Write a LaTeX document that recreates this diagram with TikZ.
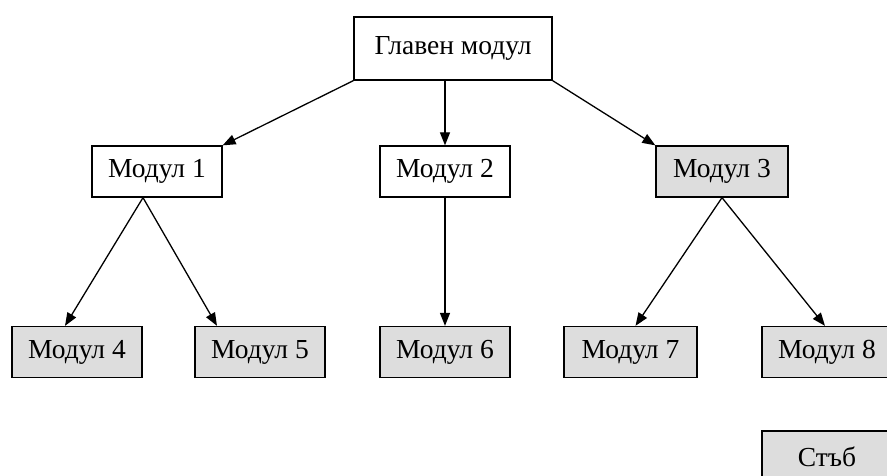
\documentclass[tikz,border=0pt]{standalone}
\usepackage{fontspec}
\setmainfont{Liberation Serif}
\usetikzlibrary{arrows.meta,calc}
\tikzset{
  modbox/.style={draw=black, line width=1.3pt, fill=white, inner sep=0pt,
    minimum width=130pt, minimum height=51pt, font=\fontsize{27.5}{32}\selectfont},
  leafbox/.style={modbox, fill=boxgray},
  link/.style={line width=1.3pt, -{Triangle[length=13pt,width=10pt]}}
}
\definecolor{boxgray}{HTML}{DDDDDD}
\begin{document}
\begin{tikzpicture}[x=1pt,y=-1pt]
  \useasboundingbox (0,0) rectangle (887,476);
  \clip (0,0) rectangle (887,476);
  \fill[white] (0,0) rectangle (887,476);

  % module tree
  \node[modbox, minimum width=198pt, minimum height=63pt] (main) at (453,48.5) {Главен модул};
  \node[modbox] (m1) at (157,171.5) {Модул 1};
  \node[modbox] (m2) at (445,171.5) {Модул 2};
  \node[leafbox, minimum width=132pt] (m3) at (722,171.5) {Модул 3};
  \node[leafbox] (m4) at (77,352) {Модул 4};
  \node[leafbox] (m5) at (260,352) {Модул 5};
  \node[leafbox] (m6) at (445,352) {Модул 6};
  \node[leafbox, minimum width=133pt] (m7) at (630.5,352) {Модул 7};
  \node[leafbox] (m8) at (827,352) {Модул 8};
  \node[leafbox] (stub) at (827,456.5) {Стъб};

  % calls
  \draw[link] (main.south west) -- (m1.north east);
  \draw[link] (m2.north |- main.south) -- (m2.north);
  \draw[link] (main.south east) -- (m3.north west);
  \draw[link] ($(m1.south)+(-14,0)$) -- ($(m4.north)+(-12,0)$);
  \draw[link] ($(m1.south)+(-14,0)$) -- ($(m5.north)+(-43,0)$);
  \draw[link] (m2.south) -- (m6.north);
  \draw[link] (m3.south) -- ($(m7.north)+(5,0)$);
  \draw[link] (m3.south) -- ($(m8.north)+(-2,0)$);
\end{tikzpicture}
\end{document}
